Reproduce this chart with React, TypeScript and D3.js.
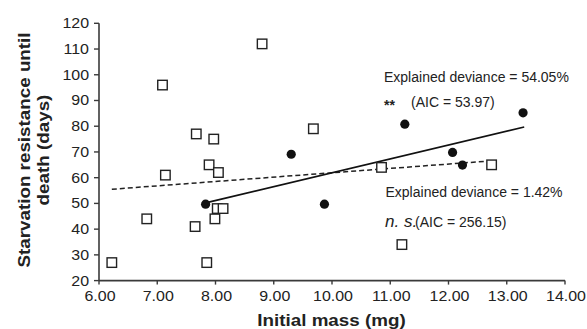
import React from "react";
import * as d3 from "d3";

const squaresX = [6.22, 6.82, 7.14, 7.09, 7.67, 7.65, 7.85, 7.89, 7.97, 8.05, 7.99, 8.03, 8.13, 8.8, 9.68, 10.85, 12.74, 11.2];
const squaresY = [27, 44, 61, 96, 77, 41, 27, 65, 75, 62, 44, 48, 48, 112, 79, 64, 65, 34];
const circlesX = [7.83, 9.3, 9.87, 11.25, 12.07, 12.24, 13.28];
const circlesY = [49.7, 69.1, 49.7, 80.8, 69.8, 64.9, 85.2];
const solidFitX = [7.83, 13.3];
const solidFitY = [50.2, 79.7];
const dashedFitX = [6.22, 12.65];
const dashedFitY = [55.5, 66.4];
const xTicks = [6, 7, 8, 9, 10, 11, 12, 13, 14];
const yTicks = [20, 30, 40, 50, 60, 70, 80, 90, 100, 110, 120];

const W = 587;
const H = 329;
const FONT = "'Liberation Sans', Arial, Helvetica, sans-serif";
const STRETCH = 1.14;

export default function App() {
  const x = d3.scaleLinear().domain([6, 14]).range([99, 565]);
  const y = d3.scaleLinear().domain([20, 120]).range([280.6, 23.3]);
  const line = d3
    .line<[number, number]>()
    .x((d) => x(d[0]))
    .y((d) => y(d[1]));
  const solid: [number, number][] = solidFitX.map((v, i) => [v, solidFitY[i]]);
  const dashed: [number, number][] = dashedFitX.map((v, i) => [v, dashedFitY[i]]);
  const axisColor = "#3a3a3a";
  const textColor = "#222";
  const sq = 9.5;

  return (
    <svg
      width={W}
      height={H}
      style={{ position: "absolute", left: 0, top: 0, background: "#fff" }}
      fontFamily={FONT}
    >
      {/* axes */}
      <line x1={x(6)} x2={x(14)} y1={y(20)} y2={y(20)} stroke={axisColor} strokeWidth={1.6} />
      <line x1={x(6)} x2={x(6)} y1={y(20)} y2={y(120)} stroke={axisColor} strokeWidth={1.6} />
      {xTicks.map((t) => (
        <g key={"xt" + t}>
          <line x1={x(t)} x2={x(t)} y1={y(20)} y2={y(20) + 4} stroke={axisColor} strokeWidth={1.4} />
          <text
            transform={`translate(${x(t) + 1},${301}) scale(${STRETCH},1)`}
            textAnchor="middle"
            fontSize={14}
            fill={textColor}
          >
            {t.toFixed(2)}
          </text>
        </g>
      ))}
      {yTicks.map((t) => (
        <g key={"yt" + t}>
          <line x1={x(6) - 5} x2={x(6)} y1={y(t)} y2={y(t)} stroke={axisColor} strokeWidth={1.4} />
          <text
            transform={`translate(${89},${y(t) + 5}) scale(${STRETCH},1)`}
            textAnchor="end"
            fontSize={14}
            fill={textColor}
          >
            {t}
          </text>
        </g>
      ))}

      {/* axis titles */}
      <text
        transform={`translate(331.5,326) scale(${STRETCH},1)`}
        textAnchor="middle"
        fontSize={16.5}
        fontWeight="bold"
        fill={textColor}
      >
        Initial mass (mg)
      </text>
      <text
        transform={`translate(30,150) rotate(-90) scale(${STRETCH},1)`}
        textAnchor="middle"
        fontSize={16.5}
        fontWeight="bold"
        fill={textColor}
      >
        Starvation resistance until
      </text>
      <text
        transform={`translate(49,150) rotate(-90) scale(${STRETCH},1)`}
        textAnchor="middle"
        fontSize={16.5}
        fontWeight="bold"
        fill={textColor}
      >
        death (days)
      </text>

      {/* fit lines */}
      <path d={line(dashed) || ""} fill="none" stroke="#222" strokeWidth={1.5} strokeDasharray="5,3" />
      <path d={line(solid) || ""} fill="none" stroke="#111" strokeWidth={1.6} />

      {/* points */}
      {squaresX.map((v, i) => (
        <rect
          key={"s" + i}
          x={x(v) - sq / 2}
          y={y(squaresY[i]) - sq / 2}
          width={sq}
          height={sq}
          fill="#fff"
          stroke="#222"
          strokeWidth={1.4}
        />
      ))}
      {circlesX.map((v, i) => (
        <circle key={"c" + i} cx={x(v)} cy={y(circlesY[i])} r={4.6} fill="#111" />
      ))}

      {/* annotations */}
      <text x={384} y={81.5} fontSize={14} fill={textColor}>
        Explained deviance = 54.05%
      </text>
      <text x={384} y={110} fontSize={14} fontWeight="bold" fill={textColor}>
        **
      </text>
      <text x={411} y={106.5} fontSize={14} fill={textColor}>
        (AIC = 53.97)
      </text>
      <text x={385.5} y={196.5} fontSize={14} fill={textColor}>
        Explained deviance = 1.42%
      </text>
      <text x={385} y={226.5} fontSize={17} fontStyle="italic" fill={textColor}>
        n. s.
      </text>
      <text x={415} y={226.5} fontSize={14} fill={textColor}>
        (AIC = 256.15)
      </text>
    </svg>
  );
}
